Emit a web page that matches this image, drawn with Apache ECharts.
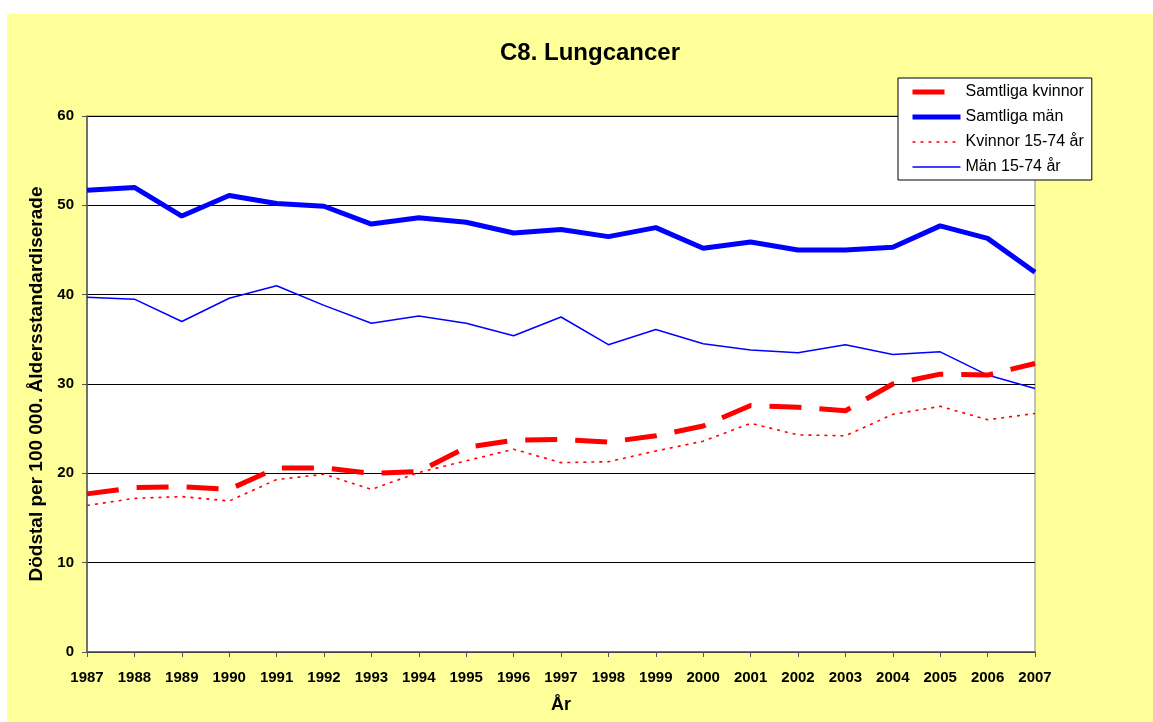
<!DOCTYPE html>
<html>
<head>
<meta charset="utf-8">
<script src="https://cdn.jsdelivr.net/npm/echarts@6/dist/echarts.min.js"></script>
<style>
  html, body { margin: 0; padding: 0; background: #fff; }
  #wrap { position: relative; width: 1153px; height: 722px; background: #fff; }
  #main { position: absolute; left: 7px; top: 14px; width: 1146px; height: 708px; background: #ffff99; }
</style>
</head>
<body>
<div id="wrap"><div id="main"></div></div>
<script>
// år
var years = ['1987','1988','1989','1990','1991','1992','1993','1994','1995','1996','1997',
             '1998','1999','2000','2001','2002','2003','2004','2005','2006','2007'];
// dödstal per 100 000, åldersstandardiserade
var kvinnorAlla = [17.7,18.4,18.5,18.2,20.6,20.6,20.0,20.2,22.9,23.7,23.8,23.5,24.2,25.3,27.6,27.4,27.0,30.0,31.1,31.0,32.3];
var manAlla     = [51.7,52.0,48.8,51.1,50.2,49.9,47.9,48.6,48.1,46.9,47.3,46.5,47.5,45.2,45.9,45.0,45.0,45.3,47.7,46.3,42.5];
var kvinnor1574 = [16.4,17.2,17.4,16.9,19.3,19.9,18.2,20.1,21.4,22.7,21.2,21.3,22.5,23.6,25.6,24.3,24.2,26.6,27.5,26.0,26.7];
var man1574     = [39.7,39.5,37.0,39.6,41.0,38.8,36.8,37.6,36.8,35.4,37.5,34.4,36.1,34.5,33.8,33.5,34.4,33.3,33.6,31.0,29.5];
var seriesNames = ['Samtliga kvinnor','Samtliga män','Kvinnor 15-74 år','Män 15-74 år'];

var chart = echarts.init(document.getElementById('main'));

var font = 'Arial, "Liberation Sans", sans-serif';

var option = {
    backgroundColor: '#ffff99',
    animation: false,
    title: {
        text: 'C8. Lungcancer',
        left: 578,
        textAlign: 'center',
        top: 22,
        textStyle: { fontFamily: font, fontSize: 24, fontWeight: 'bold', color: '#000' }
    },
    legend: {
        orient: 'vertical',
        left: 891,
        top: 64,
        data: [
            { name: seriesNames[0], lineStyle: { width: 5 } },
            { name: seriesNames[1], lineStyle: { width: 5 } },
            { name: seriesNames[2], lineStyle: { width: 1.6 } },
            { name: seriesNames[3], lineStyle: { width: 1.5 } }
        ],
        backgroundColor: '#fff',
        borderColor: '#000',
        borderWidth: 1,
        borderRadius: 0,
        padding: [6, 8, 5, 12],
        itemWidth: 48,
        itemHeight: 14,
        itemGap: 9,
        itemStyle: { opacity: 0 },
        textStyle: { fontFamily: font, fontSize: 16, color: '#000' }
    },
    grid: {
        left: 80,
        top: 102,
        right: 118,
        bottom: 70,
        show: true,
        backgroundColor: '#fff',
        borderColor: '#888',
        borderWidth: 1
    },
    xAxis: {
        type: 'category',
        data: years,
        boundaryGap: false,
        name: 'År',
        nameLocation: 'middle',
        nameGap: 44,
        nameTextStyle: { fontFamily: font, fontSize: 18, fontWeight: 'bold', color: '#000' },
        axisLine: { lineStyle: { color: '#555', width: 1.5 } },
        axisTick: { show: true, length: 5, lineStyle: { color: '#555' } },
        axisLabel: { margin: 18, fontFamily: font, fontSize: 15, fontWeight: 'bold', color: '#000' },
        splitLine: { show: false }
    },
    yAxis: {
        type: 'value',
        min: 0,
        max: 60,
        interval: 10,
        name: 'Dödstal per 100 000. Åldersstandardiserade',
        nameLocation: 'middle',
        nameGap: 38,
        nameTextStyle: { fontFamily: font, fontSize: 19, fontWeight: 'bold', color: '#000' },
        axisLine: { show: true, lineStyle: { color: '#555', width: 1.5 } },
        axisTick: { show: true, length: 5, lineStyle: { color: '#555' } },
        axisLabel: { margin: 13, fontFamily: font, fontSize: 15, fontWeight: 'bold', color: '#000' },
        splitLine: { show: true, lineStyle: { color: '#000', width: 1 } }
    },
    series: [
        {
            name: seriesNames[0],
            type: 'line',
            data: kvinnorAlla,
            symbol: 'none',
            z: 4,
            lineStyle: { color: '#ff0000', width: 5, type: [32, 18] },
            itemStyle: { color: '#ff0000' }
        },
        {
            name: seriesNames[1],
            type: 'line',
            data: manAlla,
            symbol: 'none',
            z: 4,
            lineStyle: { color: '#0000ff', width: 5 },
            itemStyle: { color: '#0000ff' }
        },
        {
            name: seriesNames[2],
            type: 'line',
            data: kvinnor1574,
            symbol: 'none',
            z: 3,
            lineStyle: { color: '#ff0000', width: 1.6, type: [3, 5] },
            itemStyle: { color: '#ff0000' }
        },
        {
            name: seriesNames[3],
            type: 'line',
            data: man1574,
            symbol: 'none',
            z: 3,
            lineStyle: { color: '#0000ff', width: 1.5 },
            itemStyle: { color: '#0000ff' }
        }
    ]
};

chart.setOption(option);
</script>
</body>
</html>
